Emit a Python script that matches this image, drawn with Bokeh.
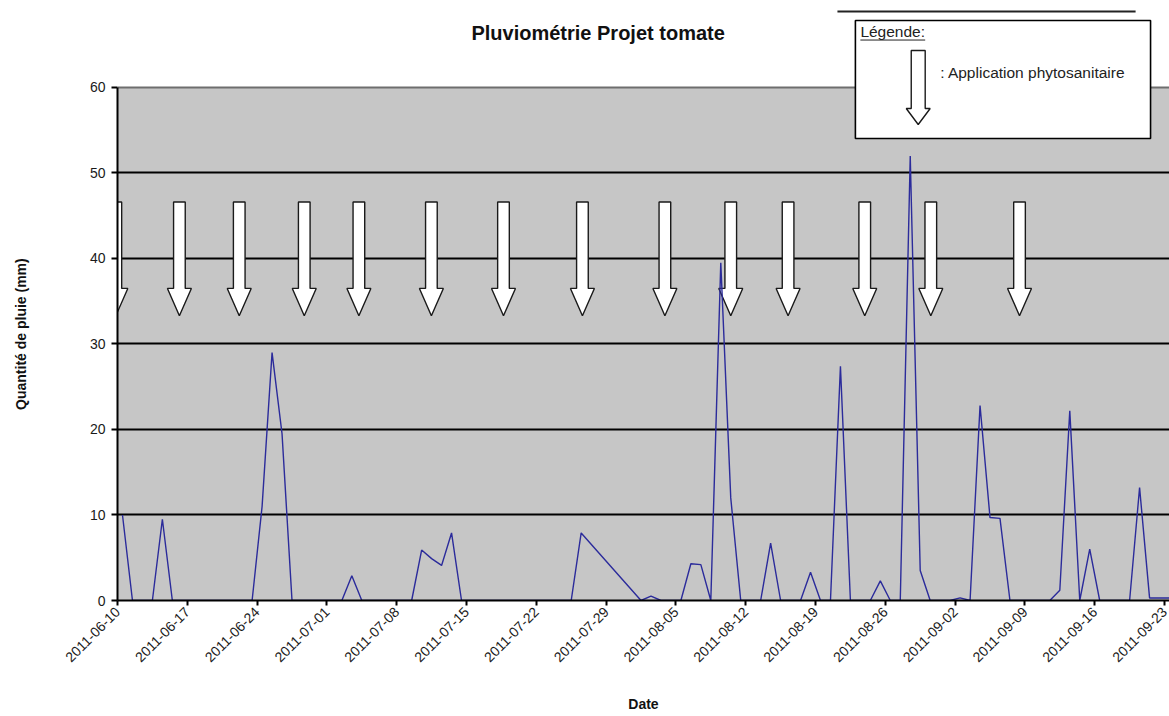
import pandas as pd
from math import pi
from bokeh.plotting import figure
from bokeh.models import (Range1d, FixedTicker, DatetimeTickFormatter, PolyAnnotation,
                          BoxAnnotation, Label, Arrow, Span, ColumnDataSource)
from bokeh.embed import file_html
from bokeh.resources import INLINE

# ---------------- data ----------------
title_text = "Pluviométrie Projet tomate"
x_label = "Date"
y_label = "Quantité de pluie (mm)"
legend_title = "Légende:"
legend_text = ": Application phytosanitaire"

start_date = "2011-06-10"
end_date = "2011-09-23"

# daily rainfall (mm) from 2011-06-10 ; None = no reading (line joins neighbours)
rain_mm = [
    10, 0, 0, 0, 9.5, 0, 0,            # 06-10 .. 06-16
    0, 0, 0, 0, 0, 0, 0,               # 06-17 .. 06-23
    11, 29, 19.5, 0, 0, 0, 0,          # 06-24 .. 06-30
    0, 0, 2.9, 0, 0, 0, 0,             # 07-01 .. 07-07
    0, 0, 5.9, 4.9, 4.1, 7.9, 0,       # 07-08 .. 07-14
    0, 0, 0, 0, 0, 0, 0,               # 07-15 .. 07-21
    0, 0, 0, 0, 7.9, None, None,       # 07-22 .. 07-28
    None, None, None, 0, 0.5, 0, 0,    # 07-29 .. 08-04
    0, 4.3, 4.2, 0, 39.5, 12, 0,       # 08-05 .. 08-11
    0, 0, 6.7, 0, 0, 0, 3.3,           # 08-12 .. 08-18
    0, 0, 27.4, 0, 0, 0, 2.3,          # 08-19 .. 08-25
    0, 0, 52, 3.5, 0, 0, 0,            # 08-26 .. 09-01
    0.3, 0, 22.8, 9.7, 9.6, 0, 0,      # 09-02 .. 09-08
    0, 0, 0, 1.2, 22.2, 0, 6,          # 09-09 .. 09-15
    0, 0, 0, 0, 13.2, 0.3, 0.3,        # 09-16 .. 09-22
    0.3,                               # 09-23
]

# phytosanitary applications (arrow positions)
application_times = [
    "2011-06-09 20:00", "2011-06-16 05:00", "2011-06-22 05:00", "2011-06-28 17:30",
    "2011-07-04 05:00", "2011-07-11 11:30", "2011-07-18 17:00", "2011-07-26 15:00",
    "2011-08-03 21:30", "2011-08-10 12:00", "2011-08-16 06:00", "2011-08-23 22:30",
    "2011-08-30 13:30", "2011-09-08 11:00",
]

tick_dates = [
    "2011-06-10", "2011-06-17", "2011-06-24", "2011-07-01", "2011-07-08",
    "2011-07-15", "2011-07-22", "2011-07-29", "2011-08-05", "2011-08-12",
    "2011-08-19", "2011-08-26", "2011-09-02", "2011-09-09", "2011-09-16",
    "2011-09-23",
]
y_ticks = [0, 10, 20, 30, 40, 50, 60]
grid_ticks = [10, 20, 30, 40, 50]
y_max = 60

# ---------------- helpers ----------------
DAY_MS = 86400000.0
t0 = pd.Timestamp(start_date)


def ms(ts):
    return pd.Timestamp(ts).value / 1e6


def dms(day_offset):
    """ms position of a day offset from the start of the axis (layout helper)"""
    return ms(t0) + day_offset * DAY_MS


days = pd.date_range(start_date, periods=len(rain_mm), freq="D") + pd.Timedelta(hours=12)
xs = [d for d, v in zip(days, rain_mm) if v is not None]
ys = [v for v in rain_mm if v is not None]
src = ColumnDataSource(dict(x=xs, y=ys))

FONT = "Liberation Sans"
TOP_EXTRA = 69.59   # frame reaches above the plot area so the title/legend can be drawn

p = figure(width=1169, height=716, x_axis_type="datetime",
           x_range=Range1d(t0, pd.Timestamp(end_date) + pd.Timedelta(hours=12)),
           y_range=Range1d(0, TOP_EXTRA),
           output_backend="svg", toolbar_location=None,
           min_border_left=117, min_border_right=0, min_border_top=5, min_border_bottom=116,
           background_fill_color="white", border_fill_color="white")
p.outline_line_color = None

# grey plot area (0..60)
p.add_layout(BoxAnnotation(bottom=0, top=y_max, fill_color="#c6c6c6", fill_alpha=1,
                           line_color=None, level="image"))
p.add_layout(Span(location=y_max, dimension="width", line_color="#6e6e6e",
                  line_width=2, level="underlay"))

# axes
p.xaxis.ticker = FixedTicker(ticks=[ms(t) for t in tick_dates])
fmt = "%Y-%m-%d"
p.xaxis.formatter = DatetimeTickFormatter(days=fmt, months=fmt, years=fmt, hours=fmt, hourmin=fmt)
p.xaxis.major_label_orientation = pi / 4
p.xaxis.major_tick_in = 0
p.xaxis.major_tick_out = 5
p.xaxis.minor_tick_line_color = None
p.xaxis.axis_label = x_label
p.xaxis.axis_label_standoff = 27

p.yaxis.ticker = FixedTicker(ticks=y_ticks)
p.yaxis.bounds = (0, y_max)
p.yaxis.major_tick_in = 0
p.yaxis.major_tick_out = 6
p.yaxis.minor_tick_line_color = None
# the label is centred on the whole frame; trailing no-break spaces re-centre it on 0..60
p.yaxis.axis_label = y_label + "\u00a0" * 16
p.yaxis.axis_label_standoff = 58

for ax in (p.xaxis[0], p.yaxis[0]):
    ax.axis_line_color = "black"
    ax.axis_line_width = 2
    ax.major_tick_line_color = "black"
    ax.major_tick_line_width = 2
    ax.major_label_text_font = FONT
    ax.major_label_text_font_size = "14px"
    ax.major_label_text_color = "#1a1a1a"
    ax.axis_label_text_font = FONT
    ax.axis_label_text_font_size = "14px"
    ax.axis_label_text_font_style = "bold"
    ax.axis_label_text_color = "#111111"
p.yaxis.major_label_standoff = 6
p.xaxis.major_label_standoff = 4

p.xgrid.visible = False
p.ygrid.ticker = FixedTicker(ticks=grid_ticks)
p.ygrid.grid_line_color = "black"
p.ygrid.grid_line_width = 1.8

# application arrows (drawn beneath the rain line)
SHAFT_HW, HEAD_HW = 0.585, 1.2
Y_TOP, Y_BASE, Y_TIP = 46.6, 36.5, 33.3
for t in application_times:
    c = ms(t)
    axs = [c - SHAFT_HW * DAY_MS, c + SHAFT_HW * DAY_MS, c + SHAFT_HW * DAY_MS,
           c + HEAD_HW * DAY_MS, c, c - HEAD_HW * DAY_MS, c - SHAFT_HW * DAY_MS]
    ays = [Y_TOP, Y_TOP, Y_BASE, Y_BASE, Y_TIP, Y_BASE, Y_BASE]
    p.add_layout(PolyAnnotation(xs=axs, ys=ays, fill_color="white", fill_alpha=1,
                                line_color="#1a1a1a", line_alpha=1, line_width=1.4,
                                level="underlay"))

# rainfall line
p.line("x", "y", source=src, line_color="#2b2b9b", line_width=1.4)

# ---- title ----
p.add_layout(Label(x=dms(48.2), y=66.32, text=title_text, text_font=FONT,
                   text_font_size="20px", text_font_style="bold", text_color="#111111",
                   text_align="center", text_baseline="middle"))

# ---- legend box ----
p.add_layout(Arrow(x_start=dms(72.2), y_start=68.9, x_end=dms(102.1), y_end=68.9,
                   end=None, line_color="#222222", line_width=2))
p.add_layout(BoxAnnotation(left=dms(74.0), right=dms(103.6), top=67.84, bottom=54.04,
                           fill_color="white", fill_alpha=1, line_color="black",
                           line_width=1.6, line_alpha=1))
p.add_layout(Label(x=dms(74.5), y=66.55, text=legend_title, text_font=FONT,
                   text_font_size="15.5px", text_color="#222222", text_baseline="middle"))
p.add_layout(Arrow(x_start=dms(74.5), y_start=65.55, x_end=dms(81.0), y_end=65.55,
                   end=None, line_color="#222222", line_width=1))
lc = dms(80.3)
lxs = [lc - 0.7 * DAY_MS, lc + 0.7 * DAY_MS, lc + 0.7 * DAY_MS, lc + 1.2 * DAY_MS, lc,
       lc - 1.2 * DAY_MS, lc - 0.7 * DAY_MS]
lys = [64.33, 64.33, 57.54, 57.54, 55.67, 57.54, 57.54]
p.add_layout(PolyAnnotation(xs=lxs, ys=lys, fill_color="white", fill_alpha=1,
                            line_color="#1a1a1a", line_alpha=1, line_width=1.4))
p.add_layout(Label(x=dms(82.5), y=61.75, text=legend_text, text_font=FONT,
                   text_font_size="15.5px", text_color="#222222", text_baseline="middle"))

open("out.html", "w").write(file_html(p, INLINE))
